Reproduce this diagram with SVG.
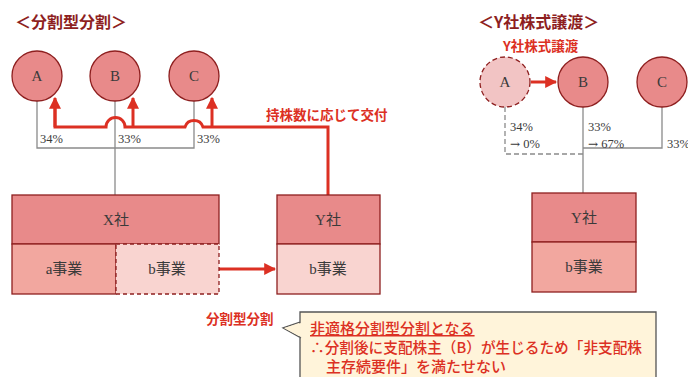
<svg xmlns="http://www.w3.org/2000/svg" width="688" height="377" viewBox="0 0 688 377">
<defs>
<marker id="ar" viewBox="0 0 10 10" refX="9" refY="5" markerWidth="4" markerHeight="4" orient="auto-start-reverse" markerUnits="strokeWidth">
<path d="M0,0 L10,5 L0,10 z" fill="#DC3023"/>
</marker>
<style>
.title{font-family:"Noto Sans CJK JP",sans-serif;font-weight:bold;font-size:16px;fill:#8E1F1F}
.rlab{font-family:"Noto Sans CJK JP",sans-serif;font-weight:bold;font-size:13.5px;fill:#DC3023}
.nt{font-family:"Liberation Serif","Noto Sans CJK JP",serif;font-size:15px;fill:#3a3a3a;text-anchor:middle}
.pct{font-family:"Liberation Serif",serif;font-size:12.5px;fill:#3a3a3a}
.arw{font-family:"DejaVu Serif",serif;font-size:12px}
.circ{fill:#E88A8A;stroke:#8E1F1F;stroke-width:1.3}
.hdr{fill:#E88A8A;stroke:#8E1F1F;stroke-width:1.3}
.bizA{fill:#F2A79F;stroke:#8E1F1F;stroke-width:1.3}
.bizB{fill:#F9D4D0;stroke:#8E1F1F;stroke-width:1.3}
.g{fill:none;stroke:#8a8a8a;stroke-width:1.3}
.r{fill:none;stroke:#DC3023;stroke-width:3}
.ct{font-family:"Noto Sans CJK JP",sans-serif;font-weight:500;font-size:15px;fill:#DC3023}
</style>
</defs>

<text class="title" x="15" y="28">＜分割型分割＞</text>
<text class="title" x="478" y="28">＜Y社株式譲渡＞</text>

<g id="connectors">
<path class="g" d="M37,101 V148 H194 V101"/>
<path class="g" d="M115,101 V195"/>
<path class="r" d="M55,100 V127 H106 A9.5,9.5 0 0 1 125,127 H185 A9.5,9.5 0 0 1 203,127 H328 V195"/>
<path class="r" d="M55,127 V98" marker-end="url(#ar)"/>
<path class="r" d="M133,127 V98" marker-end="url(#ar)"/>
<path class="r" d="M212,127 V98" marker-end="url(#ar)"/>
<path class="r" d="M219,269 H275" marker-end="url(#ar)"/>
<path class="g" d="M505,107 V154 H583" stroke-dasharray="5,3"/>
<path class="g" d="M583,107 V193"/>
<path class="g" d="M662,107 V148 H583"/>
<path class="r" d="M531,82 H556" marker-end="url(#ar)"/>
</g>

<text class="pct" x="40" y="143">34%</text>
<text class="pct" x="118" y="143">33%</text>
<text class="pct" x="197" y="143">33%</text>
<text class="rlab" x="266" y="120">持株数に応じて交付</text>

<g id="nodeA"><circle class="circ" cx="37" cy="76" r="25"/><text class="nt" x="37" y="81">A</text></g>
<g id="nodeB"><circle class="circ" cx="115" cy="76" r="25"/><text class="nt" x="115" y="81">B</text></g>
<g id="nodeC"><circle class="circ" cx="194" cy="76" r="25"/><text class="nt" x="194" y="81">C</text></g>

<g id="nodeX">
<rect class="hdr" x="12" y="195" width="207" height="49"/>
<text class="nt" x="116" y="225">X社</text>
<rect class="bizA" x="12" y="244" width="104" height="50"/>
<text class="nt" x="64" y="274">a事業</text>
<rect class="bizB" x="116" y="244" width="103" height="50" stroke-dasharray="4,3"/>
<text class="nt" x="167" y="274">b事業</text>
</g>

<g id="nodeY1">
<rect class="hdr" x="277" y="195" width="103" height="49"/>
<text class="nt" x="328" y="225">Y社</text>
<rect class="bizB" x="277" y="244" width="103" height="50"/>
<text class="nt" x="328" y="274">b事業</text>
</g>

<text class="rlab" x="503" y="51">Y社株式譲渡</text>
<g id="nodeA2"><circle cx="505" cy="82" r="25" fill="#F2C4C4" stroke="#8E1F1F" stroke-width="1.3" stroke-dasharray="5,3"/><text class="nt" x="505" y="87">A</text></g>
<g id="nodeB2"><circle class="circ" cx="583" cy="82" r="25"/><text class="nt" x="583" y="87">B</text></g>
<g id="nodeC2"><circle class="circ" cx="662" cy="82" r="25"/><text class="nt" x="662" y="87">C</text></g>

<text class="pct" x="510" y="131">34%</text>
<text class="pct" x="510" y="148"><tspan class="arw">→</tspan> 0%</text>
<text class="pct" x="588" y="131">33%</text>
<text class="pct" x="588" y="148"><tspan class="arw">→</tspan> 67%</text>
<text class="pct" x="667" y="148">33%</text>

<g id="nodeY2">
<rect class="hdr" x="532" y="193" width="104" height="49"/>
<text class="nt" x="584" y="223">Y社</text>
<rect class="bizA" x="532" y="242" width="104" height="50"/>
<text class="nt" x="584" y="272">b事業</text>
</g>

<text class="rlab" x="206" y="324">分割型分割</text>
<g id="callout">
<path d="M300,385 V312 H656 V385 M300,322 L283,328 L301,338" fill="#FFF4DA" stroke="#555" stroke-width="1.3"/>
<path d="M301,323 L284,328 L301,337 z" fill="#FFF4DA"/>
<text class="ct" x="310" y="334" text-decoration="underline">非適格分割型分割となる</text>
<text class="ct" x="310" y="353" textLength="332" lengthAdjust="spacingAndGlyphs">∴分割後に支配株主（B）が生じるため「非支配株</text>
<text class="ct" x="326" y="372">主存続要件」を満たせない</text>
</g>
</svg>
